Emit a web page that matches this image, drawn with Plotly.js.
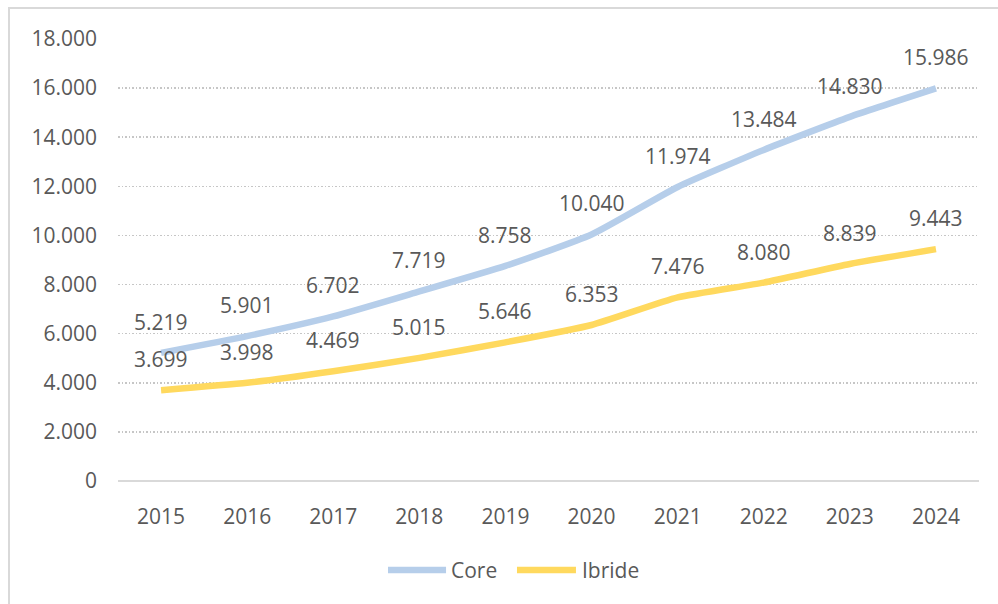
<!DOCTYPE html>
<html>
<head>
<meta charset="utf-8">
<script src="https://cdn.plot.ly/plotly-3.0.1.min.js"></script>
<style>
html,body{margin:0;padding:0;background:#fff;overflow:hidden;}
#chart{position:absolute;left:0;top:0;width:998px;height:604px;}
#frame{position:absolute;left:8px;top:7px;width:1100px;height:700px;border-left:2px solid #D9D9D9;border-top:2px solid #D9D9D9;pointer-events:none;}
</style>
</head>
<body>
<div id="chart"></div>
<div id="frame"></div>
<script>
const years = ["2015","2016","2017","2018","2019","2020","2021","2022","2023","2024"];
const core = [5219, 5901, 6702, 7719, 8758, 10040, 11974, 13484, 14830, 15986];
const ibride = [3699, 3998, 4469, 5015, 5646, 6353, 7476, 8080, 8839, 9443];
const seriesNames = ["Core", "Ibride"];
const coreColor = "#B6CEEA";
const ibrideColor = "#FFD95E";
const textColor = "#595959";
const fontFam = "'Open Sans', 'Noto Sans', sans-serif";

function fmt(v){ return v.toString().replace(/\B(?=(\d{3})+(?!\d))/g, "."); }

const traces = [
  {x: years, y: core, name: seriesNames[0], type: "scatter", mode: "lines",
   line: {color: coreColor, width: 6.5, shape: "spline", smoothing: 0.5}},
  {x: years, y: ibride, name: seriesNames[1], type: "scatter", mode: "lines",
   line: {color: ibrideColor, width: 6.5, shape: "spline", smoothing: 0.5}}
];

const annotations = [];
[core, ibride].forEach(series => {
  series.forEach((v, i) => {
    annotations.push({x: i, y: v, xref: "x", yref: "y", text: fmt(v),
      showarrow: false, yshift: 31, font: {family: fontFam, size: 21, color: textColor}});
  });
});

// custom legend (longer line samples like the reference)
const legY = -0.2014;
const legItems = [
  {name: seriesNames[0], color: coreColor, x0: 0.3136, x1: 0.3810, tx: 0.3844},
  {name: seriesNames[1], color: ibrideColor, x0: 0.4634, x1: 0.5319, tx: 0.5366}
];
const shapes = [];
legItems.forEach(it => {
  shapes.push({type: "line", xref: "paper", yref: "paper", x0: it.x0, x1: it.x1, y0: legY, y1: legY,
    line: {color: it.color, width: 6.5}});
  annotations.push({xref: "paper", yref: "paper", x: it.tx, y: legY, xanchor: "left", yanchor: "middle",
    text: it.name, showarrow: false, font: {family: fontFam, size: 21, color: textColor}});
});

const layout = {
  width: 998, height: 604,
  margin: {l: 118, r: 19, t: 39, b: 123},
  paper_bgcolor: "#fff", plot_bgcolor: "#fff",
  separators: ",.",
  font: {family: fontFam, size: 21, color: textColor},
  xaxis: {type: "category", range: [-0.5, 9.5], autorange: false, showgrid: false, zeroline: false, showline: false,
    ticks: "", ticklabelstandoff: 21, tickfont: {size: 21, color: textColor}, fixedrange: true},
  yaxis: {range: [0, 18000], autorange: false, dtick: 2000, tickformat: ",d", showline: false, zeroline: true,
    zerolinecolor: "#D9D9D9", zerolinewidth: 2,
    gridcolor: "#C6C6C6", griddash: "1.5px,2px", gridwidth: 1.5,
    ticks: "", ticklabelstandoff: 20, tickfont: {size: 21, color: textColor}, fixedrange: true},
  showlegend: false,
  shapes: shapes,
  annotations: annotations
};

Plotly.newPlot("chart", traces, layout, {displayModeBar: false, staticPlot: true});
</script>
</body>
</html>
